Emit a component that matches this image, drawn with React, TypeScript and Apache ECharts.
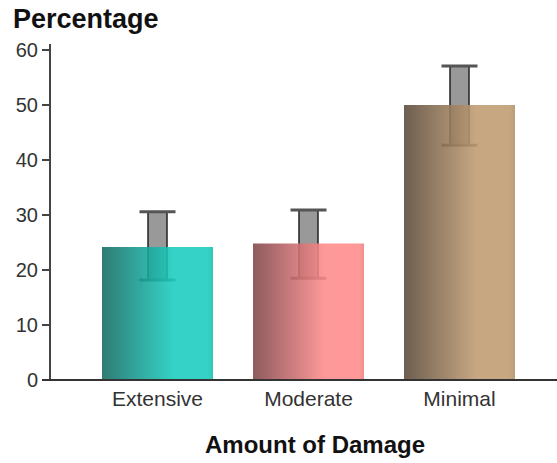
import React, { useEffect, useRef } from "react";
import * as echarts from "echarts";

const categories = ["Extensive", "Moderate", "Minimal"];
const values = [24.2, 24.8, 50.0];
const errLow = [18.2, 18.5, 42.7];
const errHigh = [30.6, 30.9, 57.1];
const yTicks = { min: 0, max: 60, interval: 10 };
const barColors = [
  ["#126961", "#19cdbf", "#16bcb0"],
  ["#7f4448", "#ff8b8b", "#ec8080"],
  ["#5a4838", "#be9b71", "#b08f68"],
];

export default function App() {
  const ref = useRef<HTMLDivElement>(null);
  useEffect(() => {
    const chart = echarts.init(ref.current!, null, { renderer: "svg" });
    const font = "'Liberation Sans', Arial, sans-serif";
    chart.setOption({
      animation: false,
      grid: { left: 82, right: 22, top: 50, bottom: 83 },
      title: [
        {
          text: "Percentage",
          left: 8,
          top: 0,
          textStyle: { fontFamily: font, fontSize: 27, fontWeight: "bold", color: "#111" },
        },
        {
          text: "Amount of Damage",
          left: 310,
          textAlign: "center",
          top: 427,
          textStyle: { fontFamily: font, fontSize: 24, fontWeight: "bold", color: "#111" },
        },
      ],
      xAxis: {
        type: "category",
        data: categories,
        axisLine: { show: false },
        axisTick: { show: false },
        axisLabel: { fontFamily: font, fontSize: 21, color: "#333", margin: 8 },
      },
      yAxis: {
        type: "value",
        min: yTicks.min,
        max: yTicks.max,
        interval: yTicks.interval,
        offset: 32,
        splitLine: { show: false },
        axisLine: { show: true, lineStyle: { color: "#444", width: 2 } },
        axisTick: { show: true, length: 8, lineStyle: { color: "#444", width: 2 } },
        axisLabel: { fontFamily: font, fontSize: 20, color: "#333", margin: 12 },
      },
      graphic: [
        {
          type: "line",
          shape: { x1: 42, y1: 380, x2: 557, y2: 380 },
          style: { stroke: "#333", lineWidth: 2 },
          z: 100,
        },
        {
          type: "line",
          shape: { x1: 50, y1: 44, x2: 50, y2: 51 },
          style: { stroke: "#444", lineWidth: 2 },
        },
      ],
      series: [
        {
          type: "custom",
          z: 1,
          data: categories.map((_, i) => [i, errLow[i], errHigh[i]]),
          renderItem: (params: any, api: any) => {
            const lo = api.coord([api.value(0), api.value(1)]);
            const hi = api.coord([api.value(0), api.value(2)]);
            const cx = lo[0];
            return {
              type: "group",
              children: [
                {
                  type: "rect",
                  shape: { x: cx - 9.5, y: hi[1], width: 19, height: lo[1] - hi[1] },
                  style: { fill: "#999", stroke: "#222", lineWidth: 1.5 },
                },
                {
                  type: "line",
                  shape: { x1: cx - 18, y1: hi[1], x2: cx + 18, y2: hi[1] },
                  style: { stroke: "#555", lineWidth: 3 },
                },
                {
                  type: "line",
                  shape: { x1: cx - 18, y1: lo[1], x2: cx + 18, y2: lo[1] },
                  style: { stroke: "#555", lineWidth: 3 },
                },
              ],
            };
          },
        },
        {
          type: "bar",
          z: 2,
          barWidth: 111,
          data: values.map((v, i) => ({
            value: v,
            itemStyle: {
              opacity: 0.88,
              color: new echarts.graphic.LinearGradient(0, 0, 1, 0, [
                { offset: 0, color: barColors[i][0] },
                { offset: 0.65, color: barColors[i][1] },
                { offset: 0.95, color: barColors[i][1] },
                { offset: 1, color: barColors[i][2] },
              ]),
            },
          })),
        },
      ],
    });
    return () => chart.dispose();
  }, []);
  return (
    <div
      ref={ref}
      style={{ position: "absolute", left: 0, top: 0, width: 557, height: 463 }}
    />
  );
}
